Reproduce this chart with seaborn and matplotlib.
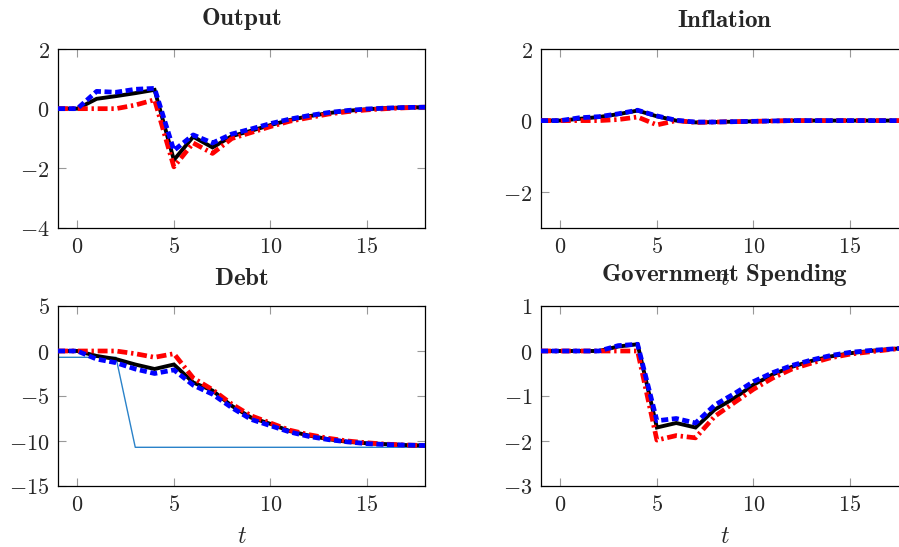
import numpy as np
import pandas as pd
import matplotlib
matplotlib.use("Agg")
import matplotlib.pyplot as plt
from matplotlib.ticker import FixedLocator, FuncFormatter
import seaborn as sns

# Horizon (periods)
t = list(range(-1, 19))

# Output responses
output_black = [0, 0, 0.33, 0.42, 0.52, 0.63, -1.72, -0.94, -1.30, -0.92, -0.74, -0.55,
                -0.38, -0.25, -0.15, -0.07, -0.02, 0.02, 0.04, 0.05]
output_blue = [0, 0, 0.58, 0.55, 0.65, 0.68, -1.40, -0.88, -1.15, -0.85, -0.68, -0.50,
               -0.35, -0.23, -0.13, -0.06, -0.01, 0.02, 0.04, 0.05]
output_red = [0, 0, 0.0, 0.0, 0.12, 0.30, -1.95, -1.15, -1.50, -1.00, -0.80, -0.60,
              -0.42, -0.30, -0.18, -0.10, -0.04, 0.0, 0.03, 0.05]

# Inflation responses
infl_black = [0, 0, 0.05, 0.10, 0.18, 0.28, 0.12, 0.0, -0.05, -0.04, -0.03, -0.02,
              -0.01, 0, 0, 0, 0, 0, 0, 0]
infl_blue = [0, 0, 0.08, 0.11, 0.19, 0.29, 0.13, 0.01, -0.04, -0.04, -0.03, -0.02,
             -0.01, 0, 0, 0, 0, 0, 0, 0]
infl_red = [0, 0, 0.0, 0.0, 0.03, 0.10, -0.12, 0.0, -0.05, -0.04, -0.03, -0.02,
            -0.01, 0, 0, 0, 0, 0, 0, 0]

# Debt responses
debt_black = [0, 0, -0.55, -0.90, -1.50, -2.00, -1.50, -3.50, -4.40, -6.10, -7.40, -8.10,
              -8.90, -9.40, -9.80, -10.10, -10.25, -10.35, -10.45, -10.50]
debt_blue = [0, 0, -0.90, -1.30, -2.00, -2.50, -2.10, -3.80, -4.80, -6.30, -7.60, -8.30,
             -9.00, -9.50, -9.85, -10.10, -10.30, -10.40, -10.45, -10.50]
debt_red = [0, 0, 0.0, 0.0, -0.30, -0.70, -0.30, -3.00, -4.30, -5.90, -7.20, -8.00,
            -8.80, -9.30, -9.70, -10.00, -10.20, -10.35, -10.45, -10.50]
debt_target = [-0.7, -0.7, -0.7, -0.7, -10.7, -10.7, -10.7, -10.7, -10.7, -10.7, -10.7,
               -10.7, -10.7, -10.7, -10.7, -10.7, -10.7, -10.7, -10.7, -10.7]

# Government spending responses
gov_black = [0, 0, 0, 0, 0.10, 0.15, -1.70, -1.60, -1.70, -1.30, -1.05, -0.75,
             -0.52, -0.35, -0.22, -0.12, -0.05, 0.0, 0.04, 0.07]
gov_blue = [0, 0, 0, 0, 0.12, 0.15, -1.55, -1.50, -1.60, -1.20, -0.95, -0.68,
            -0.48, -0.32, -0.20, -0.10, -0.03, 0.01, 0.04, 0.07]
gov_red = [0, 0, 0, 0, 0.0, 0.0, -1.98, -1.88, -1.93, -1.45, -1.15, -0.85,
           -0.60, -0.40, -0.27, -0.15, -0.07, -0.02, 0.03, 0.07]

titles = ["Output", "Inflation", "Debt", "Government Spending"]
x_ticks = [0, 5, 10, 15]
y_ticks = [[-4, -2, 0, 2], [-2, 0, 2], [-15, -10, -5, 0, 5], [-3, -2, -1, 0, 1]]
y_limits = [(-4, 2), (-3, 2), (-15, 5), (-3, 1)]

sns.set_style("ticks")
plt.rcParams["mathtext.fontset"] = "cm"
plt.rcParams["font.family"] = ["DejaVu Serif"]

fig = plt.figure(figsize=(8.99, 5.47), dpi=100)
W, H = 899, 547

def px_axes(left, top, right, bottom):
    return fig.add_axes([left / W, 1 - bottom / H, (right - left) / W, (bottom - top) / H])

axes = [
    px_axes(58, 49, 425, 228),
    px_axes(541, 49, 908, 228),
    px_axes(58, 306, 425, 486),
    px_axes(541, 306, 908, 486),
]
# title baselines sit higher when the title has descenders
title_pads = [17.5, 15.8, 15.1, 18.0]

panels = [
    (output_black, output_blue, output_red),
    (infl_black, infl_blue, infl_red),
    (debt_black, debt_blue, debt_red),
    (gov_black, gov_blue, gov_red),
]

math_fmt = FuncFormatter(lambda v, pos: r"$%d$" % round(v))

for i, (ax, (blk, blu, red)) in enumerate(zip(axes, panels)):
    if i == 2:
        sns.lineplot(x=t, y=debt_target, ax=ax, color="#2a82c9", linewidth=1.0, zorder=2)
    sns.lineplot(x=t, y=blk, ax=ax, color="black", linewidth=2.8,
                 solid_joinstyle="miter", zorder=3)
    sns.lineplot(x=t, y=red, ax=ax, color="red", linewidth=3.4,
                 linestyle=(0, (2.1, 0.8, 0.5, 0.8)), zorder=4)
    sns.lineplot(x=t, y=blu, ax=ax, color="blue", linewidth=3.4,
                 linestyle=(0, (1.5, 0.75)), zorder=5)

    ax.set_xlim(-1, 18)
    ax.set_ylim(*y_limits[i])
    ax.xaxis.set_major_locator(FixedLocator(x_ticks))
    ax.yaxis.set_major_locator(FixedLocator(y_ticks[i]))
    ax.xaxis.set_major_formatter(math_fmt)
    ax.yaxis.set_major_formatter(math_fmt)
    ax.tick_params(direction="in", top=True, right=True, length=6, width=0.8,
                   color="#999999", labelsize=16, pad=6)
    for sp in ax.spines.values():
        sp.set_linewidth(0.9)
        sp.set_color("black")
    ax.set_title(r"$\mathbf{%s}$" % titles[i].replace(" ", r"\ "), fontsize=18,
                 va="baseline", pad=title_pads[i])
    if i != 0:
        ax.set_xlabel(r"$t$", fontsize=17, labelpad=6)
    else:
        ax.set_xlabel("")
    ax.set_ylabel("")

fig.savefig("out.png", dpi=100)
